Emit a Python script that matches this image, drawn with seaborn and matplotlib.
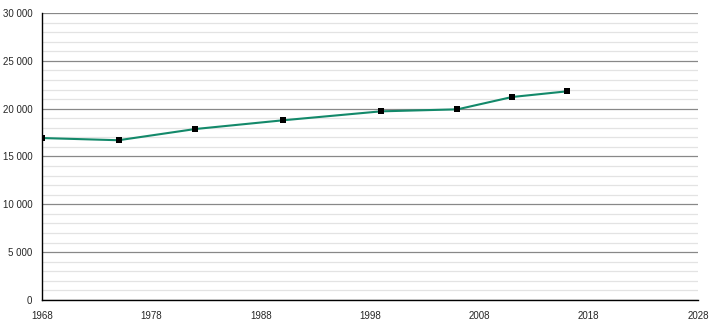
import matplotlib
matplotlib.use("Agg")
import matplotlib.pyplot as plt
from matplotlib.ticker import MultipleLocator, FuncFormatter
import seaborn as sns
import pandas as pd

years = [1968, 1975, 1982, 1990, 1999, 2006, 2011, 2016]
population = [16930, 16700, 17870, 18780, 19720, 19930, 21220, 21810]
x_ticks = [1968, 1978, 1988, 1998, 2008, 2018, 2028]

df = pd.DataFrame({"year": years, "pop": population})

sns.set_style("white")
plt.rcParams['font.family'] = ['Liberation Sans', 'DejaVu Sans']

fig = plt.figure(figsize=(7.1, 3.2), dpi=100)
ax = fig.add_axes([42/710, 20/320, 656/710, 287/320])

sns.lineplot(data=df, x="year", y="pop", ax=ax, color="#13896a", linewidth=1.5, zorder=3)
ax.scatter(df["year"], df["pop"], marker="s", s=14, color="black", zorder=4, linewidths=0)

ax.set_xlim(1968, 2028)
ax.set_ylim(0, 30000)
ax.set_xticks(x_ticks)
ax.yaxis.set_major_locator(MultipleLocator(5000))
ax.yaxis.set_minor_locator(MultipleLocator(1000))
ax.yaxis.set_major_formatter(FuncFormatter(lambda v, p: f"{int(v):,}".replace(",", " ")))

ax.grid(which="major", axis="y", color="#888888", linewidth=0.9, zorder=1)
ax.grid(which="minor", axis="y", color="#e3e3e3", linewidth=0.9, zorder=0)
ax.set_axisbelow(True)

for s in ["top", "right"]:
    ax.spines[s].set_visible(False)
for s in ["left", "bottom"]:
    ax.spines[s].set_color("black")
    ax.spines[s].set_linewidth(1.0)

ax.tick_params(axis="both", which="major", direction="out", length=5, width=0.8,
               color="black", labelsize=7, pad=2)
ax.tick_params(axis="y", which="minor", direction="out", length=3, width=0.8, color="black")
ax.tick_params(axis="x", which="major", pad=3)
ax.set_xlabel("")
ax.set_ylabel("")

fig.savefig("out.png", dpi=100)
